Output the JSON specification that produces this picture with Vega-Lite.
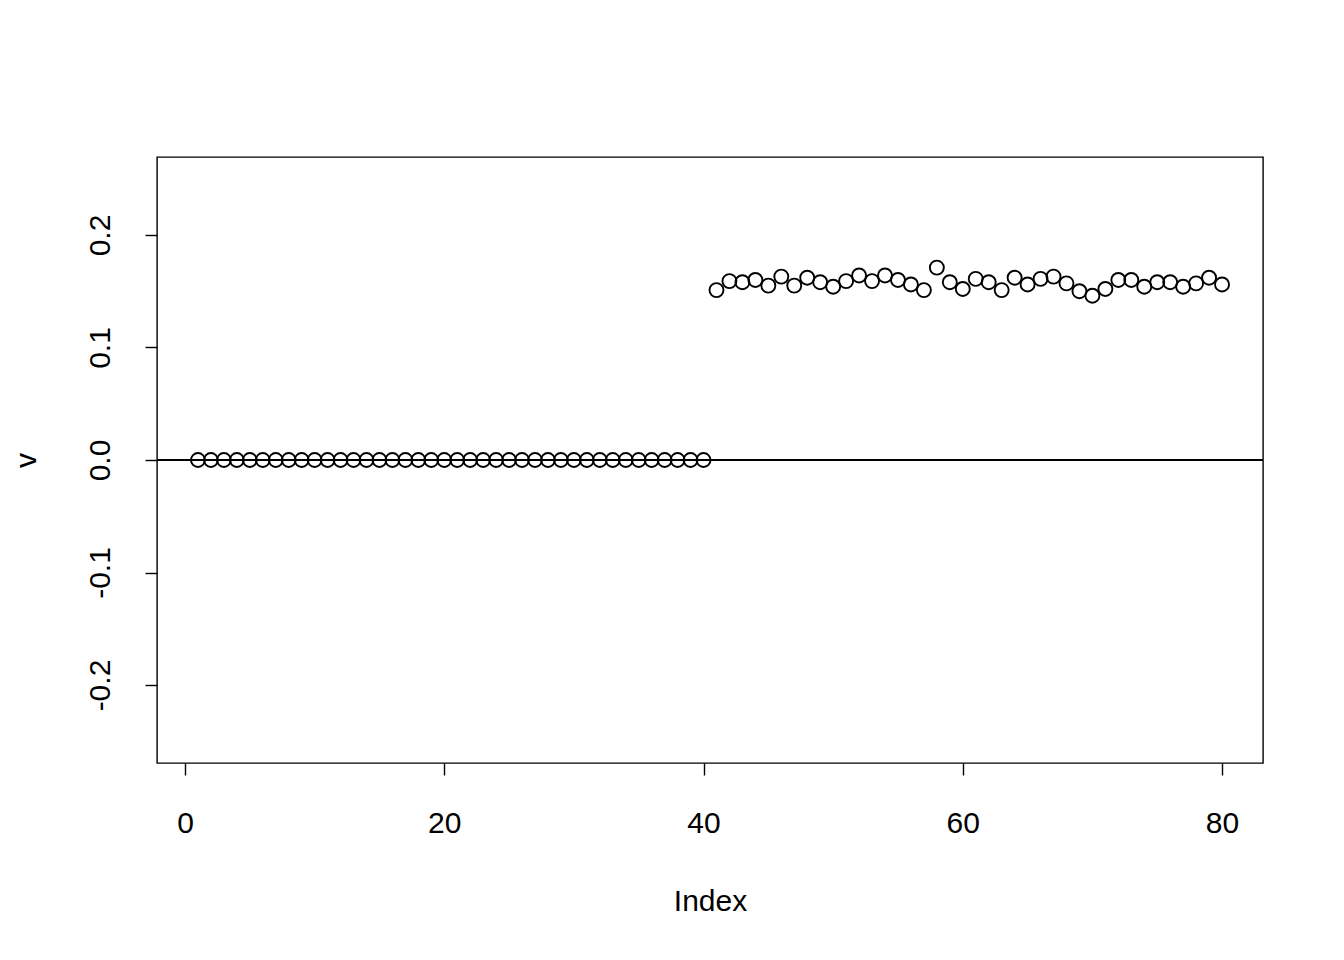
{
  "$schema": "https://vega.github.io/schema/vega-lite/v6.json",
  "width": 1106,
  "height": 606,
  "autosize": {"type": "none"},
  "padding": {"left": 157, "top": 157, "right": 81, "bottom": 197},
  "background": "white",
  "config": {
    "locale": {"number": {"decimal": ".", "thousands": ",", "grouping": [3], "currency": ["$", ""], "minus": "-"}},
    "view": {"stroke": "black", "strokeWidth": 1.4},
    "font": "Liberation Sans",
    "axis": {
      "domain": false,
      "grid": false,
      "tickColor": "black",
      "tickSize": 12,
      "tickWidth": 1.4,
      "labelFont": "Liberation Sans",
      "labelFontSize": 30,
      "labelColor": "black",
      "titleFont": "Liberation Sans",
      "titleFontSize": 30,
      "titleFontWeight": "normal",
      "titleColor": "black"
    }
  },
  "data": {
    "values": [
      {"i": 1, "v": 0}, {"i": 2, "v": 0}, {"i": 3, "v": 0}, {"i": 4, "v": 0}, {"i": 5, "v": 0},
      {"i": 6, "v": 0}, {"i": 7, "v": 0}, {"i": 8, "v": 0}, {"i": 9, "v": 0}, {"i": 10, "v": 0},
      {"i": 11, "v": 0}, {"i": 12, "v": 0}, {"i": 13, "v": 0}, {"i": 14, "v": 0}, {"i": 15, "v": 0},
      {"i": 16, "v": 0}, {"i": 17, "v": 0}, {"i": 18, "v": 0}, {"i": 19, "v": 0}, {"i": 20, "v": 0},
      {"i": 21, "v": 0}, {"i": 22, "v": 0}, {"i": 23, "v": 0}, {"i": 24, "v": 0}, {"i": 25, "v": 0},
      {"i": 26, "v": 0}, {"i": 27, "v": 0}, {"i": 28, "v": 0}, {"i": 29, "v": 0}, {"i": 30, "v": 0},
      {"i": 31, "v": 0}, {"i": 32, "v": 0}, {"i": 33, "v": 0}, {"i": 34, "v": 0}, {"i": 35, "v": 0},
      {"i": 36, "v": 0}, {"i": 37, "v": 0}, {"i": 38, "v": 0}, {"i": 39, "v": 0}, {"i": 40, "v": 0},
      {"i": 41, "v": 0.151}, {"i": 42, "v": 0.159}, {"i": 43, "v": 0.158}, {"i": 44, "v": 0.160},
      {"i": 45, "v": 0.155}, {"i": 46, "v": 0.163}, {"i": 47, "v": 0.155}, {"i": 48, "v": 0.162},
      {"i": 49, "v": 0.158}, {"i": 50, "v": 0.154}, {"i": 51, "v": 0.159}, {"i": 52, "v": 0.164},
      {"i": 53, "v": 0.159}, {"i": 54, "v": 0.164}, {"i": 55, "v": 0.160}, {"i": 56, "v": 0.156},
      {"i": 57, "v": 0.151}, {"i": 58, "v": 0.171}, {"i": 59, "v": 0.158}, {"i": 60, "v": 0.152},
      {"i": 61, "v": 0.161}, {"i": 62, "v": 0.158}, {"i": 63, "v": 0.151}, {"i": 64, "v": 0.162},
      {"i": 65, "v": 0.156}, {"i": 66, "v": 0.161}, {"i": 67, "v": 0.163}, {"i": 68, "v": 0.157},
      {"i": 69, "v": 0.150}, {"i": 70, "v": 0.146}, {"i": 71, "v": 0.152}, {"i": 72, "v": 0.160},
      {"i": 73, "v": 0.160}, {"i": 74, "v": 0.154}, {"i": 75, "v": 0.158}, {"i": 76, "v": 0.158},
      {"i": 77, "v": 0.154}, {"i": 78, "v": 0.157}, {"i": 79, "v": 0.162}, {"i": 80, "v": 0.156}
    ]
  },
  "layer": [
    {
      "mark": {"type": "rule", "color": "black", "strokeWidth": 1.4},
      "encoding": {"y": {"datum": 0, "type": "quantitative"}}
    },
    {
      "mark": {"type": "point", "shape": "circle", "filled": false, "color": "black", "opacity": 1, "size": 196, "strokeWidth": 1.9},
      "encoding": {
        "x": {
          "field": "i", "type": "quantitative",
          "scale": {"domain": [-2.16, 83.16], "nice": false, "zero": false},
          "axis": {"values": [0, 20, 40, 60, 80], "title": "Index", "labelPadding": 33, "titlePadding": 48}
        },
        "y": {
          "field": "v", "type": "quantitative",
          "scale": {"domain": [-0.2693, 0.2693], "nice": false, "zero": false},
          "axis": {"values": [-0.2, -0.1, 0, 0.1, 0.2], "format": ".1f", "title": "v", "labelAngle": -90, "labelAlign": "center", "labelBaseline": "bottom", "labelPadding": 30, "titlePadding": 44, "titleAngle": -90}
        }
      }
    }
  ]
}
